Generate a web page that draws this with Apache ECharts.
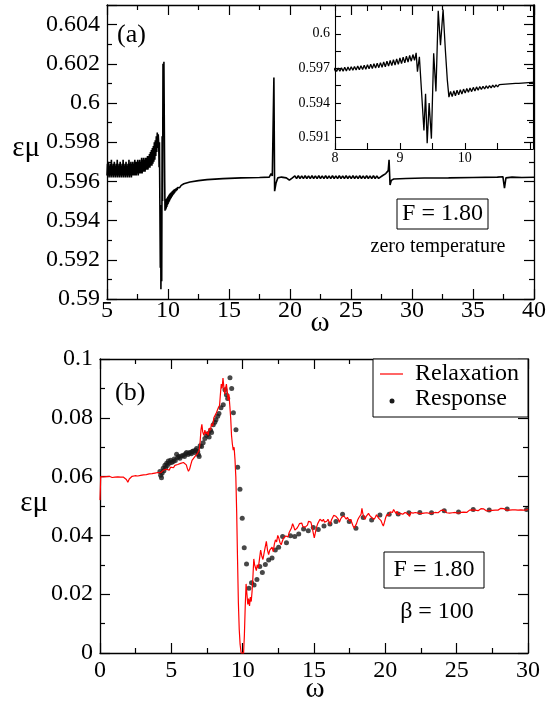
<!DOCTYPE html>
<html>
<head>
<meta charset="utf-8">
<script src="https://cdn.jsdelivr.net/npm/echarts@6/dist/echarts.min.js"></script>
<style>
html,body{margin:0;padding:0;background:#fff;}
#chart{width:547px;height:703px;}
</style>
</head>
<body>
<div id="chart"></div>
<script>
// ---------- Panel (a): zero temperature, F = 1.80 ----------
const bandA = [
[5.00,0.5963],[5.04,0.5969],[5.08,0.5962],[5.12,0.5970],[5.16,0.5963],[5.20,0.5968],[5.24,0.5962],[5.28,0.5969],
[5.32,0.5963],[5.36,0.5971],[5.40,0.5962],[5.44,0.5968],[5.48,0.5963],[5.52,0.5969],[5.56,0.5962],[5.60,0.5970],
[5.64,0.5963],[5.68,0.5968],[5.72,0.5962],[5.76,0.5969],[5.80,0.5963],[5.84,0.5971],[5.88,0.5962],[5.92,0.5968],
[5.96,0.5963],[6.00,0.5969],[6.04,0.5962],[6.08,0.5970],[6.12,0.5963],[6.16,0.5968],[6.20,0.5962],[6.24,0.5969],
[6.28,0.5963],[6.32,0.5971],[6.36,0.5962],[6.40,0.5968],[6.44,0.5963],[6.48,0.5969],[6.52,0.5962],[6.56,0.5970],
[6.60,0.5963],[6.64,0.5968],[6.68,0.5962],[6.72,0.5969],[6.76,0.5963],[6.80,0.5971],[6.84,0.5962],[6.88,0.5969],
[6.92,0.5963],[6.96,0.5970],[7.00,0.5962],[7.04,0.5969],[7.08,0.5963],[7.12,0.5970],[7.16,0.5963],[7.20,0.5969],
[7.24,0.5963],[7.28,0.5971],[7.32,0.5963],[7.36,0.5970],[7.40,0.5963],[7.44,0.5970],[7.48,0.5964],[7.52,0.5971],
[7.56,0.5963],[7.60,0.5970],[7.64,0.5964],[7.68,0.5971],[7.72,0.5964],[7.76,0.5970],[7.80,0.5964],[7.84,0.5972],
[7.88,0.5964],[7.92,0.5971],[7.96,0.5965],[8.00,0.5972],[8.04,0.5965],[8.08,0.5971],[8.12,0.5965],[8.16,0.5972],
[8.20,0.5966],[8.24,0.5972],[8.28,0.5966],[8.32,0.5973],[8.36,0.5966],[8.40,0.5973],[8.44,0.5967],[8.48,0.5974],
[8.52,0.5967],[8.56,0.5975],[8.60,0.5968],[8.64,0.5976],[8.68,0.5968],[8.72,0.5977],[8.76,0.5969],[8.80,0.5978],
[8.84,0.5970],[8.88,0.5980],[8.92,0.5971],[8.96,0.5981],[9.00,0.5973],[9.04,0.5983],[9.08,0.5975],[9.12,0.5985],
[9.16,0.5977],[9.20,0.5984],[9.24,0.5979]
];
const insetPre = [
[7.950,0.59700],[7.975,0.59672],[8.000,0.59702],[8.025,0.59673],[8.050,0.59703],[8.075,0.59675],[8.100,0.59706],
[8.125,0.59676],[8.150,0.59709],[8.175,0.59678],[8.200,0.59712],[8.225,0.59681],[8.250,0.59714],[8.275,0.59683],
[8.300,0.59717],[8.325,0.59685],[8.350,0.59720],[8.375,0.59688],[8.400,0.59723],[8.425,0.59690],[8.450,0.59727],
[8.475,0.59693],[8.500,0.59731],[8.525,0.59696],[8.550,0.59735],[8.575,0.59699],[8.600,0.59740],[8.625,0.59703],
[8.650,0.59745],[8.675,0.59706],[8.700,0.59750],[8.725,0.59710],[8.750,0.59756],[8.775,0.59714],[8.800,0.59762],
[8.825,0.59719],[8.850,0.59768],[8.875,0.59724],[8.900,0.59775],[8.925,0.59729],[8.950,0.59782],[8.975,0.59735],
[9.000,0.59790],[9.025,0.59741],[9.050,0.59797],[9.075,0.59748],[9.100,0.59805],[9.125,0.59755],[9.150,0.59812],
[9.175,0.59762],[9.200,0.59820],[9.225,0.59770],[9.250,0.59835]
];
const coreA = [
[9.270,0.59672],[9.300,0.59800],[9.370,0.59160],[9.395,0.59480],[9.420,0.59050],[9.450,0.59400],[9.485,0.59090],
[9.520,0.59830],[9.555,0.59500],[9.590,0.60200],[9.625,0.59900],[9.665,0.60210],[9.700,0.59860],[9.730,0.59600],
[9.755,0.59450]
];
const insetPost = [
[9.780,0.59500],[9.805,0.59455],[9.830,0.59505],[9.855,0.59462],[9.880,0.59510],[9.905,0.59470],[9.930,0.59515],
[9.955,0.59478],[9.980,0.59520],[10.005,0.59485],[10.030,0.59525],[10.055,0.59492],[10.080,0.59530],[10.105,0.59498],
[10.130,0.59535],[10.155,0.59504],[10.180,0.59539],[10.205,0.59510],[10.230,0.59542],[10.255,0.59516],[10.280,0.59545],
[10.305,0.59521],[10.330,0.59548],[10.355,0.59526],[10.380,0.59551],[10.405,0.59531],[10.430,0.59554],[10.455,0.59535],
[10.480,0.59557],[10.505,0.59539],[10.530,0.59559],[10.555,0.59543],[10.580,0.59561],[10.605,0.59547],[10.630,0.59563],
[10.655,0.59550],[10.680,0.59565],[10.705,0.59553],[10.730,0.59567],[10.755,0.59556],[10.780,0.59569],[10.805,0.59559],
[10.830,0.59570],[10.855,0.59562],[10.880,0.59572],[10.905,0.59565],[10.930,0.59574],[10.955,0.59568],[10.980,0.59576],
[11.005,0.59571],[11.030,0.59578],[11.055,0.59574],[11.080,0.59580]
];
const tailA = [
[11.30,0.59588],[11.80,0.59597],[12.50,0.59604],[13.20,0.59609],[14.50,0.59614],[16.00,0.59618],[17.50,0.59620],
[18.30,0.59622],[18.45,0.59640],[18.55,0.59628],[18.62,0.59625],[18.68,0.60130],[18.74,0.59550],[18.85,0.59590],
[19.00,0.59618],[19.30,0.59622],[19.70,0.59618],[19.95,0.59606],[20.20,0.59618],
[20.40,0.59628],[20.54,0.59614],[20.68,0.59629],[20.82,0.59615],[20.96,0.59628],[21.10,0.59614],[21.24,0.59629],
[21.38,0.59615],[21.52,0.59628],[21.66,0.59614],[21.80,0.59629],[21.94,0.59615],[22.08,0.59628],[22.22,0.59614],
[22.36,0.59629],[22.50,0.59615],[22.64,0.59628],[22.78,0.59614],[22.92,0.59629],[23.06,0.59615],[23.20,0.59628],
[23.34,0.59614],[23.48,0.59629],[23.62,0.59615],[23.76,0.59628],[23.90,0.59614],[24.04,0.59629],[24.18,0.59615],
[24.32,0.59628],[24.46,0.59614],[24.60,0.59629],[24.74,0.59615],[24.88,0.59628],[25.02,0.59614],[25.16,0.59629],
[25.30,0.59615],[25.44,0.59628],[25.58,0.59614],[25.72,0.59629],[25.86,0.59615],[26.00,0.59628],[26.14,0.59614],
[26.28,0.59629],[26.42,0.59615],[26.56,0.59628],[26.70,0.59614],[26.84,0.59629],[26.98,0.59615],[27.12,0.59628],
[27.26,0.59615],[27.40,0.59625],
[27.60,0.59630],[27.85,0.59640],[28.05,0.59655],[28.12,0.59710],[28.20,0.59582],[28.30,0.59605],[28.50,0.59612],
[29.50,0.59615],[31.00,0.59617],[33.00,0.59618],[35.00,0.59620],[37.00,0.59622],[37.45,0.59624],[37.58,0.59565],
[37.70,0.59618],[38.20,0.59622],[39.00,0.59620],[40.00,0.59621]
];
const mainA = bandA.concat(coreA, insetPost, tailA);
const insetA = insetPre.concat(coreA, insetPost);

// axis ranges [min, max, step] and tick labels
const ticksAx = [5, 40, 5];
const ticksAy = [0.59, 0.605, 0.002];
const labelsAx = [5, 10, 15, 20, 25, 30, 35, 40];
const labelsAy = [0.59, 0.592, 0.594, 0.596, 0.598, 0.6, 0.602, 0.604];
const insetXRange = [8, 11.05];
const insetXLabels = [8, 9, 10];
const insetXTickVals = [8, 8.5, 9, 9.5, 10, 10.5, 11];
const insetYRange = [0.590, 0.6025];
const insetYLabels = [0.591, 0.594, 0.597, 0.6];
const insetYTickVals = [0.591, 0.5925, 0.594, 0.5955, 0.597, 0.5985, 0.6, 0.6015];
const ticksBx = [0, 30, 5];
const ticksBy = [0, 0.1, 0.02];
const labelsBx = [0, 5, 10, 15, 20, 25, 30];
const labelsBy = [0, 0.02, 0.04, 0.06, 0.08, 0.1];

// ---------- Panel (b): beta = 100, F = 1.80 ----------
const relaxation = [
[0.00,0.0520],[0.05,0.0600],[0.15,0.0601],[0.25,0.0599],[0.35,0.0602],[0.45,0.0600],[0.55,0.0598],[0.65,0.0601],
[0.75,0.0599],[0.85,0.0597],[0.95,0.0600],[1.05,0.0598],[1.15,0.0596],[1.25,0.0599],[1.35,0.0597],[1.45,0.0598],
[1.55,0.0596],[1.65,0.0598],[1.75,0.0595],[1.85,0.0590],[1.95,0.0581],[2.05,0.0592],[2.15,0.0598],[2.25,0.0601],
[2.35,0.0599],[2.45,0.0603],[2.55,0.0605],[2.65,0.0602],[2.75,0.0606],[2.85,0.0604],[2.95,0.0608],[3.05,0.0606],
[3.15,0.0610],[3.25,0.0607],[3.35,0.0611],[3.45,0.0609],[3.55,0.0613],[3.65,0.0610],[3.75,0.0614],[3.85,0.0612],
[3.95,0.0617],[4.05,0.0614],[4.15,0.0619],[4.25,0.0613],[4.35,0.0618],[4.45,0.0622],[4.55,0.0617],[4.65,0.0625],
[4.75,0.0628],[4.85,0.0622],[4.95,0.0632],[5.05,0.0636],[5.15,0.0630],[5.25,0.0638],[5.35,0.0634],[5.45,0.0641],
[5.55,0.0637],[5.65,0.0645],[5.75,0.0640],[5.85,0.0648],[5.95,0.0643],[6.05,0.0640],[6.12,0.0628],[6.20,0.0618],
[6.28,0.0625],[6.36,0.0640],[6.45,0.0655],[6.55,0.0650],[6.65,0.0668],[6.75,0.0662],[6.85,0.0680],[6.95,0.0690],
[7.02,0.0720],[7.08,0.0760],[7.14,0.0778],[7.20,0.0752],[7.28,0.0740],[7.35,0.0758],[7.42,0.0745],[7.50,0.0752],
[7.58,0.0740],[7.66,0.0765],[7.74,0.0758],[7.82,0.0780],[7.90,0.0772],[7.98,0.0800],[8.06,0.0795],[8.14,0.0815],
[8.22,0.0810],[8.30,0.0835],[8.38,0.0842],[8.44,0.0880],[8.50,0.0915],[8.56,0.0900],[8.62,0.0935],[8.68,0.0905],
[8.74,0.0880],[8.80,0.0900],[8.86,0.0915],[8.92,0.0890],[8.98,0.0860],[9.04,0.0880],[9.10,0.0840],[9.16,0.0800],
[9.22,0.0740],[9.28,0.0710],[9.34,0.0690],[9.40,0.0700],[9.46,0.0660],[9.52,0.0600],[9.58,0.0480],[9.64,0.0320],
[9.70,0.0170],[9.76,0.0080],[9.82,0.0030],[9.88,0.0005],[9.94,-0.0010],[10.00,0.0002],[10.06,-0.0005],[10.12,0.0060],
[10.18,0.0160],[10.24,0.0235],[10.30,0.0200],[10.36,0.0165],[10.42,0.0185],[10.48,0.0160],[10.54,0.0190],[10.60,0.0175],
[10.66,0.0210],[10.72,0.0260],[10.78,0.0320],[10.84,0.0300],[10.90,0.0290],[10.96,0.0280],[11.02,0.0300],[11.10,0.0290],
[11.18,0.0320],[11.26,0.0350],[11.34,0.0330],[11.42,0.0318],[11.50,0.0340],[11.58,0.0360],[11.66,0.0380],[11.74,0.0350],
[11.82,0.0335],[11.90,0.0350],[11.98,0.0345],[12.06,0.0360],[12.14,0.0345],[12.22,0.0370],[12.30,0.0385],[12.38,0.0378],
[12.46,0.0400],[12.54,0.0390],[12.62,0.0375],[12.70,0.0368],[12.78,0.0380],[12.86,0.0390],[12.94,0.0385],[13.02,0.0398],
[13.10,0.0402],[13.18,0.0395],[13.26,0.0410],[13.34,0.0405],[13.42,0.0425],[13.50,0.0440],[13.58,0.0430],[13.66,0.0418],
[13.74,0.0412],[13.82,0.0425],[13.90,0.0432],[13.98,0.0440],[14.06,0.0435],[14.14,0.0442],[14.22,0.0430],[14.30,0.0436],
[14.38,0.0428],[14.46,0.0424],[14.54,0.0435],[14.62,0.0448],[14.70,0.0452],[14.78,0.0445],[14.86,0.0430],[14.94,0.0410],
[15.02,0.0392],[15.10,0.0410],[15.18,0.0428],[15.26,0.0440],[15.34,0.0445],[15.42,0.0455],[15.50,0.0458],[15.58,0.0448],
[15.66,0.0455],[15.74,0.0445],[15.82,0.0440],[15.90,0.0448],[15.98,0.0455],[16.06,0.0445],[16.14,0.0438],[16.22,0.0452],
[16.30,0.0460],[16.38,0.0468],[16.46,0.0472],[16.54,0.0465],[16.62,0.0460],[16.70,0.0455],[16.78,0.0445],[16.86,0.0455],
[16.94,0.0462],[17.02,0.0458],[17.10,0.0466],[17.18,0.0462],[17.26,0.0455],[17.34,0.0462],[17.42,0.0458],[17.50,0.0448],
[17.58,0.0455],[17.66,0.0442],[17.74,0.0432],[17.82,0.0425],[17.90,0.0430],[17.98,0.0440],[18.06,0.0452],[18.14,0.0460],
[18.22,0.0455],[18.30,0.0472],[18.36,0.0492],[18.42,0.0475],[18.50,0.0462],[18.58,0.0455],[18.66,0.0465],[18.74,0.0470],
[18.82,0.0475],[18.90,0.0468],[18.98,0.0472],[19.06,0.0460],[19.14,0.0465],[19.22,0.0455],[19.30,0.0462],[19.38,0.0470],
[19.46,0.0465],[19.54,0.0458],[19.62,0.0462],[19.70,0.0450],[19.78,0.0440],[19.86,0.0432],[19.94,0.0445],[20.02,0.0460],
[20.10,0.0470],[20.18,0.0475],[20.26,0.0468],[20.34,0.0480],[20.42,0.0485],[20.50,0.0478],[20.58,0.0488],[20.66,0.0482],
[20.74,0.0475],[20.82,0.0482],[20.90,0.0470],[20.98,0.0465],[21.06,0.0475],[21.14,0.0480],[21.22,0.0472],[21.30,0.0468],
[21.38,0.0478],[21.46,0.0482],[21.54,0.0475],[21.62,0.0470],[21.70,0.0465],[21.78,0.0478],[21.86,0.0482],[21.94,0.0476],
[22.02,0.0470],[22.10,0.0478],[22.20,0.0482],[22.30,0.0476],[22.40,0.0480],[22.50,0.0474],[22.60,0.0479],[22.70,0.0476],
[22.80,0.0482],[22.90,0.0477],[23.00,0.0480],[23.10,0.0475],[23.20,0.0479],[23.30,0.0476],[23.40,0.0482],[23.50,0.0478],
[23.60,0.0483],[23.70,0.0477],[23.80,0.0481],[23.90,0.0485],[24.00,0.0480],[24.10,0.0486],[24.20,0.0481],[24.30,0.0477],
[24.40,0.0481],[24.50,0.0476],[24.60,0.0480],[24.70,0.0477],[24.80,0.0482],[24.90,0.0478],[25.00,0.0481],[25.10,0.0476],
[25.20,0.0480],[25.30,0.0478],[25.40,0.0475],[25.50,0.0479],[25.60,0.0482],[25.70,0.0478],[25.80,0.0483],[25.90,0.0486],
[26.00,0.0482],[26.10,0.0487],[26.20,0.0483],[26.30,0.0486],[26.40,0.0488],[26.50,0.0484],[26.60,0.0488],[26.70,0.0491],
[26.80,0.0494],[26.90,0.0490],[27.00,0.0486],[27.10,0.0483],[27.20,0.0487],[27.30,0.0484],[27.40,0.0487],[27.50,0.0485],
[27.60,0.0488],[27.70,0.0486],[27.80,0.0489],[27.90,0.0486],[28.00,0.0490],[28.10,0.0492],[28.20,0.0494],[28.30,0.0491],
[28.40,0.0488],[28.50,0.0486],[28.60,0.0489],[28.70,0.0486],[28.80,0.0489],[28.90,0.0487],[29.00,0.0490],[29.10,0.0487],
[29.20,0.0489],[29.30,0.0486],[29.40,0.0489],[29.50,0.0487],[29.60,0.0489],[29.70,0.0486],[29.80,0.0488],[29.90,0.0487],
[30.00,0.0489]
];
const response = [
[4.20,0.0617],[4.25,0.0605],[4.31,0.0596],[4.36,0.0612],[4.43,0.0628],[4.48,0.0620],[4.55,0.0639],[4.60,0.0630],
[4.67,0.0645],[4.72,0.0638],[4.79,0.0653],[4.85,0.0645],[4.95,0.0656],[5.02,0.0648],[5.13,0.0651],[5.20,0.0660],
[5.28,0.0655],[5.37,0.0676],[5.45,0.0665],[5.52,0.0668],[5.60,0.0662],[5.70,0.0670],[5.83,0.0673],[5.92,0.0668],
[6.00,0.0678],[6.07,0.0682],[6.17,0.0675],[6.25,0.0680],[6.31,0.0682],[6.40,0.0678],[6.47,0.0685],[6.54,0.0687],
[6.62,0.0682],[6.70,0.0690],[6.77,0.0696],[6.85,0.0685],[6.89,0.0675],[6.95,0.0668],[7.02,0.0705],[7.12,0.0702],
[7.23,0.0715],[7.35,0.0730],[7.47,0.0741],[7.59,0.0747],[7.65,0.0735],[7.75,0.0758],[7.82,0.0750],[7.94,0.0776],
[8.05,0.0785],[8.13,0.0793],[8.25,0.0805],[8.34,0.0815],[8.48,0.0834],[8.64,0.0844],[8.76,0.0895],[8.86,0.0878],
[8.95,0.0866],[9.11,0.0936],[9.23,0.0900],[9.35,0.0817],[9.53,0.0759],[9.65,0.0632],[9.81,0.0557],[9.97,0.0458],
[10.11,0.0358],[10.27,0.0303],[10.44,0.0220],[10.62,0.0239],[10.80,0.0231],[11.00,0.0250],[11.20,0.0294],[11.38,0.0274],
[11.59,0.0301],[11.82,0.0316],[12.06,0.0323],[12.29,0.0350],[12.52,0.0360],[12.80,0.0396],[13.07,0.0375],[13.35,0.0399],
[13.65,0.0396],[13.93,0.0405],[14.27,0.0422],[14.60,0.0416],[14.95,0.0427],[15.30,0.0420],[15.70,0.0432],[16.12,0.0439],
[16.54,0.0447],[17.00,0.0472],[17.47,0.0447],[17.94,0.0424],[18.45,0.0461],[19.04,0.0452],[19.62,0.0469],[20.27,0.0472],
[20.90,0.0473],[21.65,0.0477],[22.42,0.0478],[23.24,0.0477],[24.13,0.0484],[25.13,0.0480],[26.16,0.0488],[27.28,0.0486],
[28.54,0.0490],[29.90,0.0488]
];

// ---------- chart ----------
const FONT = function(px){ return px + 'px "Liberation Serif", serif'; };
function axisBase(r, opts) {
  return Object.assign({
    type:'value', min:r[0], max:r[1], interval:r[2],
    axisLine:{show:true, onZero:false, lineStyle:{color:'#000', width:1.3}},
    axisTick:{show:true, inside:true, length:10, lineStyle:{color:'#000', width:1.2}},
    minorTick:{show:true, splitNumber:2, length:5, lineStyle:{color:'#000', width:1.2}},
    axisLabel:{show:false},
    splitLine:{show:false}, minorSplitLine:{show:false}
  }, opts);
}
function insetAxis(range, pos, tickVals) {
  return {type:'value', gridIndex:1, position:pos, min:range[0], max:range[1],
    axisLine:{show:true, onZero:false, lineStyle:{color:'#000', width:1.1}},
    axisTick:{show:true, inside:true, length:6, customValues:tickVals, lineStyle:{color:'#000', width:1.1}},
    axisLabel:{show:false}, splitLine:{show:false}};
}

const annotations = [
  {type:'text', x:117, y:35, z:10, style:{text:'(a)', font:FONT(26), fill:'#000', textAlign:'left', textVerticalAlign:'middle'}},
  {type:'text', x:115, y:393, z:10, style:{text:'(b)', font:FONT(26), fill:'#000', textAlign:'left', textVerticalAlign:'middle'}},
  {type:'text', x:40, y:148, z:10, style:{text:'εμ', font:FONT(29), fill:'#000', textAlign:'right', textVerticalAlign:'middle'}},
  {type:'text', x:48, y:503, z:10, style:{text:'εμ', font:FONT(29), fill:'#000', textAlign:'right', textVerticalAlign:'middle'}},
  {type:'text', x:320, y:323, z:10, style:{text:'ω', font:FONT(29), fill:'#000', textAlign:'center', textVerticalAlign:'middle'}},
  {type:'text', x:315, y:689, z:10, style:{text:'ω', font:FONT(29), fill:'#000', textAlign:'center', textVerticalAlign:'middle'}},
  {type:'rect', z:10, shape:{x:397, y:199, width:91, height:30}, style:{fill:'#fff', stroke:'#000', lineWidth:1}},
  {type:'text', x:442.5, y:214, z:11, style:{text:'F = 1.80', font:FONT(24), fill:'#000', textAlign:'center', textVerticalAlign:'middle'}},
  {type:'text', x:438, y:247, z:10, style:{text:'zero temperature', font:FONT(20), fill:'#000', textAlign:'center', textVerticalAlign:'middle'}},
  {type:'rect', z:10, shape:{x:384, y:552, width:100, height:36}, style:{fill:'#fff', stroke:'#000', lineWidth:1}},
  {type:'text', x:434, y:570, z:11, style:{text:'F = 1.80', font:FONT(24), fill:'#000', textAlign:'center', textVerticalAlign:'middle'}},
  {type:'text', x:437, y:612, z:10, style:{text:'β = 100', font:FONT(24), fill:'#000', textAlign:'center', textVerticalAlign:'middle'}},
  {type:'rect', z:10, shape:{x:373, y:359, width:155, height:58}, style:{fill:'#fff', stroke:'#000', lineWidth:1}},
  {type:'line', z:11, shape:{x1:380, y1:374, x2:403, y2:374}, style:{stroke:'#ff0000', lineWidth:1.2}},
  {type:'text', x:415, y:374, z:11, style:{text:'Relaxation', font:FONT(24), fill:'#000', textAlign:'left', textVerticalAlign:'middle'}},
  {type:'circle', z:11, shape:{cx:392, cy:401, r:2.5}, style:{fill:'#1a1a1a'}},
  {type:'text', x:415, y:399, z:11, style:{text:'Response', font:FONT(24), fill:'#000', textAlign:'left', textVerticalAlign:'middle'}}
];

const option = {
  animation:false,
  backgroundColor:'#fff',
  grid:[
    {left:107, top:5, width:427, height:294},
    {left:335, top:5, width:198, height:144},
    {left:100, top:359, width:428, height:294}
  ],
  xAxis:[
    axisBase(ticksAx, {gridIndex:0, position:'bottom'}),
    axisBase(ticksAx, {gridIndex:0, position:'top'}),
    insetAxis(insetXRange, 'bottom', insetXTickVals),
    insetAxis(insetXRange, 'top', insetXTickVals),
    axisBase(ticksBx, {gridIndex:2, position:'bottom'}),
    axisBase(ticksBx, {gridIndex:2, position:'top'})
  ],
  yAxis:[
    axisBase(ticksAy, {gridIndex:0, position:'left'}),
    axisBase(ticksAy, {gridIndex:0, position:'right'}),
    insetAxis(insetYRange, 'left', insetYTickVals),
    insetAxis(insetYRange, 'right', insetYTickVals),
    axisBase(ticksBy, {gridIndex:2, position:'left'}),
    axisBase(ticksBy, {gridIndex:2, position:'right'})
  ],
  series:[
    {name:'zero temperature', type:'line', xAxisIndex:0, yAxisIndex:0, data:mainA, symbol:'none',
      lineStyle:{color:'#000', width:1.6}},
    {name:'inset', type:'line', xAxisIndex:2, yAxisIndex:2, data:insetA, symbol:'none',
      lineStyle:{color:'#000', width:1.3}},
    {name:'Relaxation', type:'line', xAxisIndex:4, yAxisIndex:4, data:relaxation, symbol:'none',
      lineStyle:{color:'#ff0000', width:1.2}},
    {name:'Response', type:'scatter', xAxisIndex:4, yAxisIndex:4, data:response, symbol:'circle', symbolSize:5,
      itemStyle:{color:'#1a1a1a'}}
  ],
  graphic: annotations
};

const chart = echarts.init(document.getElementById('chart'), null, {renderer:'canvas'});
chart.setOption(option);

// Tick labels placed at the positions given by the chart's own axes.
function fmt(v){ return String(parseFloat(v.toFixed(4))); }
function tickText(x, y, v, size, align, valign){
  return {type:'text', x:x, y:y, z:12, silent:true,
    style:{text:fmt(v), font:FONT(size), fill:'#000', textAlign:align, textVerticalAlign:valign}};
}
const tickEls = [];
function xLabels(values, xIdx, yIdx, yVal, gap, size){
  const y0 = chart.convertToPixel({yAxisIndex:yIdx}, yVal) + gap;
  values.forEach(function(v){ tickEls.push(tickText(chart.convertToPixel({xAxisIndex:xIdx}, v), y0, v, size, 'center', 'top')); });
}
function yLabels(values, xIdx, yIdx, xVal, gap, size){
  const x0 = chart.convertToPixel({xAxisIndex:xIdx}, xVal) - gap;
  values.forEach(function(v){ tickEls.push(tickText(x0, chart.convertToPixel({yAxisIndex:yIdx}, v), v, size, 'right', 'middle')); });
}
xLabels(labelsAx, 0, 0, ticksAy[0], 0, 24);
yLabels(labelsAy, 0, 0, ticksAx[0], 7, 24);
xLabels(insetXLabels, 2, 2, insetYRange[0], 2, 14);
yLabels(insetYLabels, 2, 2, insetXRange[0], 5, 14);
xLabels(labelsBx, 4, 4, ticksBy[0], 6, 24);
yLabels(labelsBy, 4, 4, ticksBx[0], 7, 24);
chart.setOption({graphic: annotations.concat(tickEls)});
</script>
</body>
</html>
